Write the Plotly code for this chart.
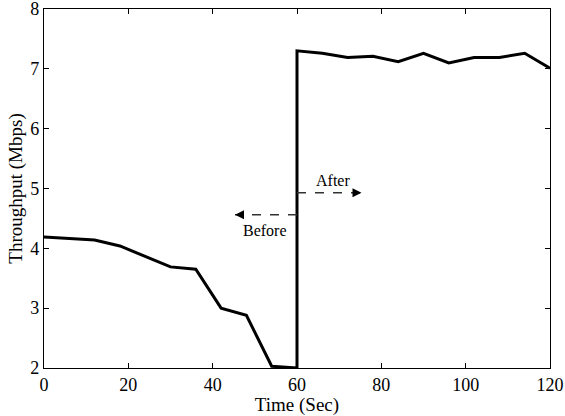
import plotly.graph_objects as go

time_before = [0, 6, 12, 18, 24, 30, 36, 42, 48, 54, 60]
thr_before = [4.19, 4.17, 4.14, 4.04, 3.86, 3.69, 3.65, 3.00, 2.88, 2.03, 2.00]
time_after = [60, 66, 72, 78, 84, 90, 96, 102, 108, 114, 120]
thr_after = [7.30, 7.26, 7.19, 7.21, 7.12, 7.26, 7.10, 7.19, 7.19, 7.26, 7.01]

time = time_before + time_after
thr = thr_before + thr_after

after_arrow_x = [60, 75.3]
after_arrow_y = 4.93
before_arrow_x = [60, 45.3]
before_arrow_y = 4.56

font = "Liberation Serif"

fig = go.Figure()
fig.add_trace(go.Scatter(x=time, y=thr, mode="lines",
                         line=dict(color="black", width=3), showlegend=False))
for xs, yv in [(after_arrow_x, after_arrow_y), (before_arrow_x, before_arrow_y)]:
    fig.add_trace(go.Scatter(x=xs, y=[yv, yv], mode="lines",
                             line=dict(color="#333", width=1.5, dash="dash"),
                             showlegend=False))
    d = 1 if xs[1] > xs[0] else -1
    fig.add_annotation(x=xs[1], y=yv, ax=xs[1] - d * 1.5, ay=yv, axref="x", ayref="y",
                       xref="x", yref="y", showarrow=True, arrowhead=2,
                       arrowsize=1.2, arrowwidth=1.5, arrowcolor="black", text="")

fig.add_annotation(x=68.5, y=5.14, text="After", showarrow=False,
                   font=dict(family=font, size=16, color="black"))
fig.add_annotation(x=52.5, y=4.3, text="Before", showarrow=False,
                   font=dict(family=font, size=16, color="black"))

axis_common = dict(showline=True, linecolor="black", linewidth=1.2, mirror="ticks",
                   ticks="inside", ticklen=5, tickcolor="black", showgrid=False,
                   zeroline=False, automargin=False, ticklabeloverflow="allow",
                   tickfont=dict(family=font, size=18, color="black"))
fig.update_xaxes(range=[0, 120], dtick=20, title=dict(text="Time (Sec)", standoff=0,
                 font=dict(family=font, size=19, color="black")), **axis_common)
fig.update_yaxes(range=[2, 8], dtick=1, title=dict(text="Throughput (Mbps)", standoff=2,
                 font=dict(family=font, size=19, color="black")), **axis_common)

fig.update_layout(width=565, height=416, margin=dict(l=44, r=15, t=9, b=48),
                  plot_bgcolor="white", paper_bgcolor="white")
fig.write_html("out.html", config={"displayModeBar": False},
               post_script="document.body.style.margin='0';")
